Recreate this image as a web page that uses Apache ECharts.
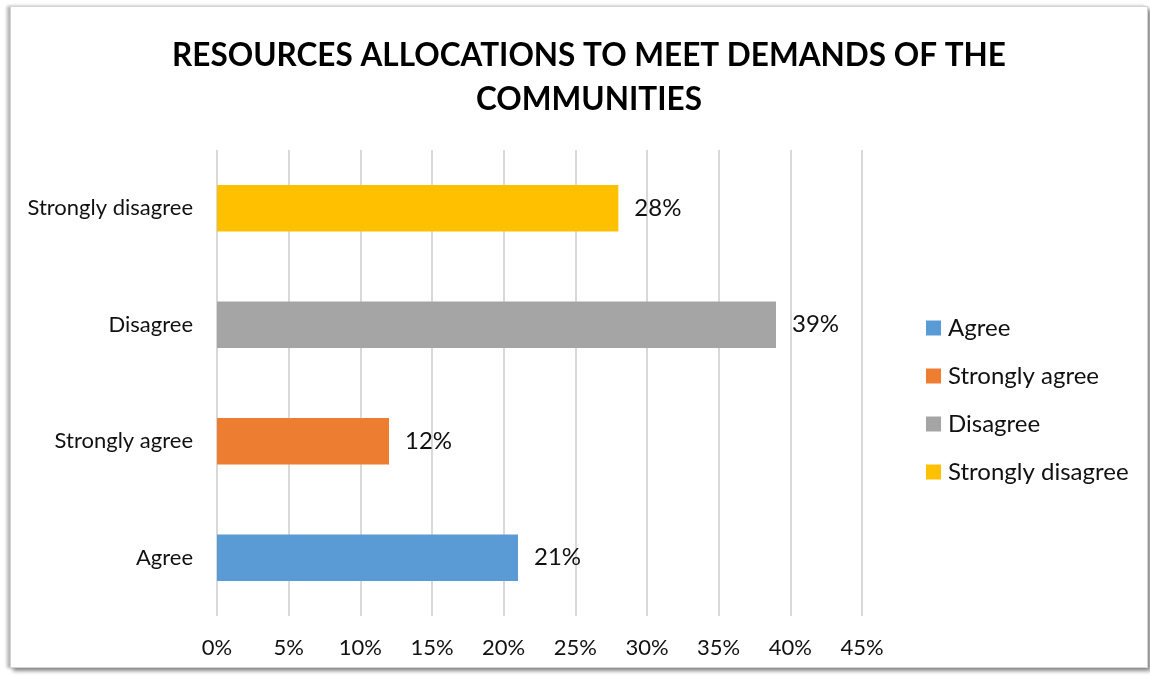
<!DOCTYPE html>
<html>
<head>
<meta charset="utf-8">
<script src="https://cdn.jsdelivr.net/npm/echarts@6/dist/echarts.min.js"></script>
<style>
  html, body { margin: 0; padding: 0; background: #ffffff; }
  #chart { position: absolute; left: 0; top: 0; width: 1150px; height: 675px; }
  #frame {
    position: absolute; left: 10px; top: 6px; width: 1136px; height: 660px;
    border: 1px solid #d4d4d4; box-shadow: 3px 3px 4px #8a8a8a, -3px 0 3px #b5b5b5;
    pointer-events: none;
  }
</style>
</head>
<body>
<div id="chart"></div>
<div id="frame"></div>
<script>
// Survey responses, bottom-to-top order on the category axis
const categories = ['Agree', 'Strongly agree', 'Disagree', 'Strongly disagree'];
const shares = [21, 12, 39, 28];            // percent of respondents
const colors = ['#5B9BD5', '#ED7D31', '#A5A5A5', '#FFC000'];
const tickMax = 45;
const tickStep = 5;

const FONT = 'Lato';
const chart = echarts.init(document.getElementById('chart'), null, { renderer: 'canvas' });

// One series per response so each gets its own legend entry; stacking keeps
// every bar centred on its own category row.
const series = categories.map((name, i) => ({
  name: name,
  type: 'bar',
  stack: 'all',
  barWidth: '40%',
  itemStyle: { color: colors[i] },
  label: {
    show: true, position: 'right', distance: 16,
    formatter: p => p.value + '%',
    color: '#111', fontFamily: FONT, fontSize: 24
  },
  data: categories.map((_, j) => (j === i ? shares[i] : '-'))
}));

chart.setOption({
  backgroundColor: '#ffffff',
  animation: false,
  title: {
    text: 'RESOURCES ALLOCATIONS TO MEET DEMANDS OF THE\nCOMMUNITIES',
    left: 584, top: 29, textAlign: 'center',
    textStyle: { fontFamily: FONT, fontWeight: 'bold', fontSize: 31.5, lineHeight: 44, color: '#000' }
  },
  legend: {
    orient: 'vertical', left: 921, top: 311,
    icon: 'rect', itemWidth: 15, itemHeight: 15, itemGap: 24,
    textStyle: { fontFamily: FONT, fontSize: 24, color: '#111', padding: [0, 0, 0, 2] },
    data: categories
  },
  grid: { left: 217, right: 288, top: 150, bottom: 59, containLabel: false },
  xAxis: {
    type: 'value', min: 0, max: tickMax, interval: tickStep,
    axisLine: { show: false }, axisTick: { show: false },
    splitLine: { lineStyle: { color: '#d9d9d9', width: 2 } },
    axisLabel: { formatter: '{value}%', fontFamily: FONT, fontSize: 22, color: '#111', margin: 21 }
  },
  yAxis: {
    type: 'category', data: categories,
    axisLine: { show: false }, axisTick: { show: false },
    axisLabel: { fontFamily: FONT, fontSize: 22, color: '#111', margin: 24 }
  },
  series: series
});
</script>
</body>
</html>
